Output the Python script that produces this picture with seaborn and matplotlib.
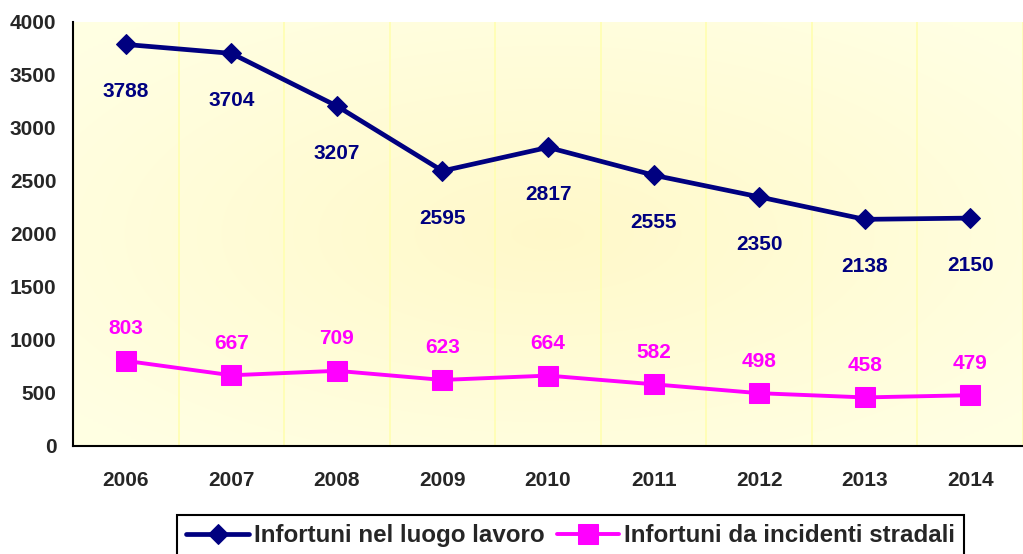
import numpy as np
import pandas as pd
import matplotlib.pyplot as plt
import seaborn as sns

anni = [2006, 2007, 2008, 2009, 2010, 2011, 2012, 2013, 2014]
lavoro = [3788, 3704, 3207, 2595, 2817, 2555, 2350, 2138, 2150]
stradali = [803, 667, 709, 623, 664, 582, 498, 458, 479]
nome_lavoro = "Infortuni nel luogo lavoro"
nome_stradali = "Infortuni da incidenti stradali"
y_ticks = [0, 500, 1000, 1500, 2000, 2500, 3000, 3500, 4000]

blu = "#000080"
magenta = "#FF00FF"

df = pd.DataFrame({"Anno": anni, "Lavoro": lavoro, "Stradali": stradali})

sns.set_style("white")
plt.rcParams["font.family"] = ["Liberation Sans", "DejaVu Sans"]
plt.rcParams["font.weight"] = "bold"

fig = plt.figure(figsize=(10.23, 5.54), dpi=100)
ax = fig.add_axes([0.0714, 0.195, 0.9286, 0.7653])

# sfondo sfumato (radiale) dell'area del grafico
yy, xx = np.mgrid[-1:1:200j, -1:1:400j]
r = np.clip(np.sqrt(xx**2 + yy**2) / 1.3, 0, 1)[..., None]
c_in = np.array([1.0, 0.975, 0.79])
c_out = np.array([1.0, 1.0, 0.89])
ax.imshow(c_in + (c_out - c_in) * r, extent=[0, 1, 0, 1], transform=ax.transAxes,
          aspect="auto", zorder=0, interpolation="bilinear")

sns.lineplot(data=df, x="Anno", y="Lavoro", color=blu, marker="D", markersize=10,
             markeredgecolor=blu, linewidth=3.4, label=nome_lavoro, ax=ax, zorder=3)
sns.lineplot(data=df, x="Anno", y="Stradali", color=magenta, marker="s", markersize=15,
             markeredgecolor=magenta, linewidth=2.8, label=nome_stradali, ax=ax, zorder=3)

for a, v in zip(anni, lavoro):
    ax.annotate(f"{v}", (a, v), xytext=(0, -34), textcoords="offset points",
                ha="center", va="center", color=blu, fontsize=15, fontweight="bold")
for a, v in zip(anni, stradali):
    ax.annotate(f"{v}", (a, v), xytext=(0, 23), textcoords="offset points",
                ha="center", va="center", color=magenta, fontsize=15, fontweight="bold")

ax.set_xlim(anni[0] - 0.5, anni[0] - 0.5 + 8.91)
ax.set_ylim(0, 4000)
ax.set_yticks(y_ticks)
ax.set_xticks(anni)
ax.set_xticklabels([str(a) for a in anni])
ax.set_xticks([a + 0.5 for a in [anni[0] - 1] + anni], minor=True)
ax.grid(which="minor", axis="x", color="#FFFFB0", linewidth=1.2, zorder=1)
ax.grid(which="major", visible=False)

ax.tick_params(axis="x", which="major", length=0, pad=18, labelsize=15)
ax.tick_params(axis="x", which="minor", length=7, width=1.5, color="black", direction="out")
ax.tick_params(axis="y", length=0, pad=12, labelsize=15)
for lab in ax.get_xticklabels() + ax.get_yticklabels():
    lab.set_fontweight("bold")

for s in ["top", "right"]:
    ax.spines[s].set_visible(False)
for s in ["left", "bottom"]:
    ax.spines[s].set_color("black")
    ax.spines[s].set_linewidth(1.5)
ax.set_xlabel("")
ax.set_ylabel("")

handles, labels = ax.get_legend_handles_labels()
ax.get_legend().remove()
leg = fig.legend(handles, labels, loc="upper left", bbox_to_anchor=(177 / 1023, 1 - 515 / 554),
                 ncol=2, fontsize=17.4, frameon=True, fancybox=False, framealpha=1,
                 edgecolor="black", handlelength=2.6, handletextpad=0.2, columnspacing=0.5,
                 borderpad=0.38, borderaxespad=0)
leg.get_frame().set_linewidth(1.5)
for t in leg.get_texts():
    t.set_fontweight("bold")

fig.savefig("out.png", dpi=100)
